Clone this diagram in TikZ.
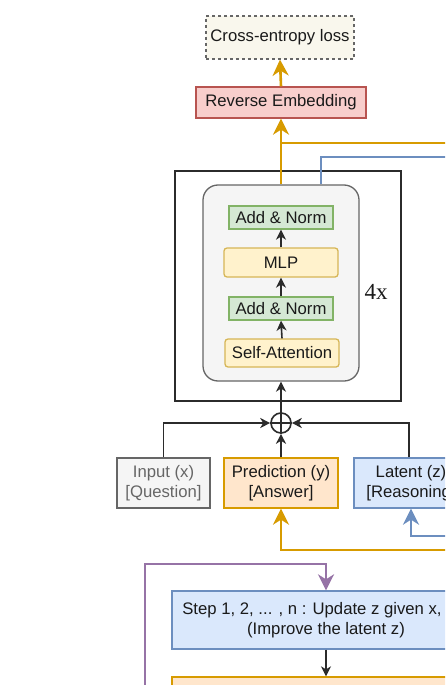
\documentclass[tikz,border=0pt]{standalone}
\usepackage{fontspec}
\setmainfont{Liberation Sans}
\newfontfamily\serifface{Liberation Serif}
\usetikzlibrary{arrows.meta,calc}
\definecolor{txt}{HTML}{1A1A1A}
\definecolor{greytxt}{HTML}{666666}
\definecolor{lineblk}{HTML}{2B2B2B}
\definecolor{ornline}{HTML}{D79B00}
\definecolor{ornfill}{HTML}{FFE6CC}
\definecolor{bluline}{HTML}{6C8EBF}
\definecolor{blufill}{HTML}{DAE8FC}
\definecolor{grnline}{HTML}{82B366}
\definecolor{grnfill}{HTML}{D5E8D4}
\definecolor{yelline}{HTML}{D6B656}
\definecolor{yelfill}{HTML}{FFF2CC}
\definecolor{redline}{HTML}{B85450}
\definecolor{redfill}{HTML}{F8CECC}
\definecolor{grylne}{HTML}{666666}
\definecolor{gryfill}{HTML}{F5F5F5}
\definecolor{beige}{HTML}{F9F7ED}
\definecolor{purline}{HTML}{9673A6}
\begin{document}
\begin{tikzpicture}[x=1pt,y=-1pt,
  box/.style={draw, line width=1.3pt, inner sep=0pt, align=center, text=txt,
    font=\fontsize{16.7}{20.5}\selectfont},
  greenbox/.style={box, draw=grnline, fill=grnfill, minimum width=104pt, minimum height=23pt},
  yellowbox/.style={box, draw=yelline, fill=yelfill, rounded corners=3pt},
  bigtip/.style={-{Stealth[length=16pt,width=16pt,inset=5pt]}},
  smalltip/.style={-{Stealth[length=10pt,width=10pt,inset=3pt]}},
  orn/.style={draw=ornline, line width=2.6pt},
  blu/.style={draw=bluline, line width=2.6pt},
  pur/.style={draw=purline, line width=2.6pt},
  blk/.style={draw=lineblk, line width=1.6pt},
]
\useasboundingbox (0,0) rectangle (445,685);
\clip (0,0) rectangle (445,685);
\fill[white] (0,0) rectangle (445,685);

% boxes
\node[box, dashed, draw=grylne, fill=beige, minimum width=148pt, minimum height=43pt] (ce) at (280,37.5) {Cross-entropy loss};
\node[box, draw=redline, fill=redfill, minimum width=170pt, minimum height=31pt] (re) at (281,102.5) {Reverse Embedding};
\node[draw=lineblk, line width=1.6pt, minimum width=226pt, minimum height=230pt, inner sep=0pt] (outer) at (288,286) {};
\node[draw=grylne, fill=gryfill, line width=1.3pt, rounded corners=15pt, minimum width=156pt, minimum height=196pt, inner sep=0pt] (inner) at (281,283) {};
\node[greenbox] (an1) at (281,217.5) {Add \& Norm};
\node[yellowbox, minimum width=114pt, minimum height=29pt] (mlp) at (281,262.5) {MLP};
\node[greenbox] (an2) at (281,308.5) {Add \& Norm};
\node[yellowbox, minimum width=114pt, minimum height=28pt] (sa) at (282,353) {Self-Attention};
\node[text=txt, font=\serifface\fontsize{23}{26}\selectfont, inner sep=0pt] (rep) at (376,292) {4x};

\node[circle, draw=lineblk, fill=white, line width=1.6pt, minimum size=20pt, inner sep=0pt] (plus) at (281,423) {};
\draw[blk] (plus.north) -- (plus.south) (plus.west) -- (plus.east);

\node[box, draw=grylne, fill=gryfill, text=greytxt, minimum width=93pt, minimum height=50pt] (inp) at (163.5,483) {Input (x)\\{}[Question]};
\node[box, draw=ornline, fill=ornfill, minimum width=114pt, minimum height=50pt] (pred) at (281,483) {Prediction (y)\\{}[Answer]};
\node[box, draw=bluline, fill=blufill, minimum width=114pt, minimum height=50pt] (lat) at (411,483) {Latent (z)\\{}[Reasoning\phantom{]}};

\node[box, draw=bluline, fill=blufill, minimum width=308pt, minimum height=58pt] (step) at (326,620) {Step 1, 2, ... , n : Update z given x,\hspace*{28pt}\\(Improve the latent z)};
\node[box, draw=ornline, fill=ornfill, minimum width=308pt, minimum height=40pt] (nextbox) at (326,697) {};

% free ends
\coordinate (oend) at (460,143);
\coordinate (obr) at (281,143);
\coordinate (bend) at (460,157);
\coordinate (btop) at (321,157);
\coordinate (ofb) at (460,550);
\coordinate (bfb) at (460,536);
\coordinate (pbot) at (145,700);
\coordinate (ptop) at (145,564);
\coordinate (latx) at (409,0);

% orange path up
\draw[orn, bigtip] (re.north) -- (ce.south);
\draw[orn, bigtip] (inner.north) -- (re.south);
\draw[orn] (obr) -- (oend);
\draw[blu] (inner.north -| btop) -- (btop) -- (bend);

% inside block
\draw[blk, smalltip] (sa.north) -- (an2.south);
\draw[blk, smalltip] (an2.north) -- (mlp.south);
\draw[blk, smalltip] (mlp.north) -- (an1.south);
\draw[blk, smalltip] (plus.north) -- (inner.south);

% inputs into plus
\draw[blk, smalltip] (inp.north) |- (plus.west);
\draw[blk, smalltip] (lat.north -| latx) |- (plus.east);
\draw[blk, smalltip] (pred.north) -- (plus.south);

% feedback
\draw[orn, bigtip] (ofb) -| (pred.south);
\draw[blu, bigtip] (bfb) -| (lat.south);

% purple loop
\draw[pur, bigtip] (pbot) |- (step.north |- ptop) -- (step.north);
\draw[blk, smalltip] (step.south) -- (nextbox.north);
\end{tikzpicture}
\end{document}
